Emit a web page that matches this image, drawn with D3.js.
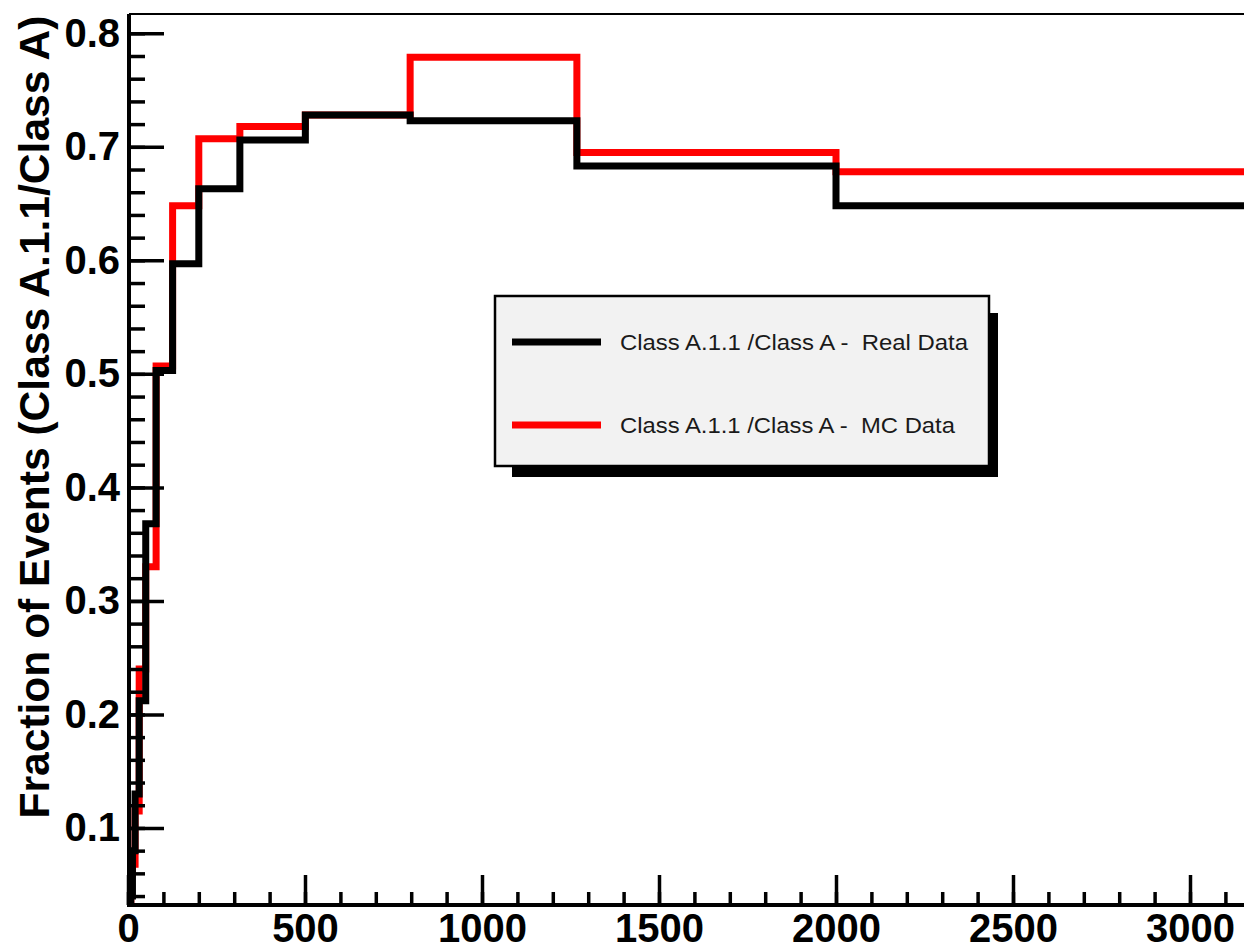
<!DOCTYPE html>
<html>
<head>
<meta charset="utf-8">
<script src="https://cdn.jsdelivr.net/npm/d3@7"></script>
<style>
  html, body { margin: 0; padding: 0; background: #fff; }
  svg { display: block; }
  text { font-family: "Liberation Sans", Arial, Helvetica, sans-serif; }
</style>
</head>
<body>
<svg id="chart" width="1244" height="952"></svg>
<script>
// ---- data ----
const binEdges = [7.94, 12.6, 20.0, 31.6, 50.1, 79.4, 126, 200, 316, 501, 797, 1268, 2000, 3162];
const realData = [0.040, 0.080, 0.130, 0.212, 0.368, 0.503, 0.597, 0.663, 0.706, 0.728, 0.723, 0.683, 0.648];
const mcData   = [0.060, 0.068, 0.115, 0.240, 0.330, 0.507, 0.648, 0.707, 0.718, 0.728, 0.779, 0.695, 0.678];
const xTicks = [0, 500, 1000, 1500, 2000, 2500, 3000];
const yTicks = [0.1, 0.2, 0.3, 0.4, 0.5, 0.6, 0.7, 0.8];
const yTitle = "Fraction of Events (Class A.1.1/Class A)";
const legendLabels = ["Class A.1.1 /Class A -  Real Data", "Class A.1.1 /Class A -  MC Data"];
const seriesColors = ["#000000", "#ff0000"];

(function () {
// ---- layout ----
const svg = d3.select("#chart");
const pLeft = 129, pBottom = 905, pTop = 14, pRight = 1300;
const x = d3.scaleLinear().domain([0, 3300]).range([128, 128 + 3300 * 0.354]);
const y = d3.scaleLinear().domain([0.033, 0.817]).range([904, 14]);

svg.append("rect").attr("width", 1244).attr("height", 952).attr("fill", "#fff");

svg.append("defs").append("clipPath").attr("id", "plotClip")
  .append("rect").attr("x", pLeft).attr("y", pTop).attr("width", pRight - pLeft).attr("height", pBottom - pTop);

// ---- histograms ----
function stepPoints(vals) {
  const pts = [[binEdges[0], y.domain()[0]]];
  vals.forEach((v, i) => pts.push([binEdges[i], v]));
  pts.push([binEdges[binEdges.length - 1], vals[vals.length - 1]]);
  return pts;
}
const line = d3.line().x(d => x(d[0])).y(d => y(d[1])).curve(d3.curveStepAfter);
const g = svg.append("g").attr("clip-path", "url(#plotClip)");
g.append("path").attr("d", line(stepPoints(mcData)))
  .attr("fill", "none").attr("stroke", seriesColors[1]).attr("stroke-width", 7).attr("stroke-linejoin", "miter");
g.append("path").attr("d", line(stepPoints(realData)))
  .attr("fill", "none").attr("stroke", seriesColors[0]).attr("stroke-width", 7).attr("stroke-linejoin", "miter");

// ---- axes ----
const yMinor = d3.range(0.04, 0.817, 0.02);
const xMinor = d3.range(0, 3300, 100);

const yAxisG = svg.append("g").attr("transform", `translate(${pLeft},0)`);
yAxisG.call(d3.axisLeft(y).tickValues(yMinor).tickSize(-16).tickFormat(""));
yAxisG.select(".domain").remove();
const yMajG = svg.append("g").attr("transform", `translate(${pLeft},0)`)
  .call(d3.axisLeft(y).tickValues(yTicks).tickSize(-35).tickPadding(9).tickFormat(d3.format(".1f")));
yMajG.select(".domain").remove();
yMajG.selectAll("text").attr("font-size", 40).attr("font-weight", "bold").attr("fill", "#000")
  .attr("font-family", "'Liberation Sans', Arial, sans-serif");

const xAxisG = svg.append("g").attr("transform", `translate(0,${pBottom})`);
xAxisG.call(d3.axisBottom(x).tickValues(xMinor).tickSize(-13).tickFormat(""));
xAxisG.select(".domain").remove();
const xMajG = svg.append("g").attr("transform", `translate(0,${pBottom})`)
  .call(d3.axisBottom(x).tickValues(xTicks).tickSize(-30).tickPadding(9).tickFormat(d3.format("d")));
xMajG.select(".domain").remove();
xMajG.selectAll("text").attr("font-size", 40).attr("font-weight", "bold").attr("fill", "#000")
  .attr("font-family", "'Liberation Sans', Arial, sans-serif");
svg.selectAll("g.tick line").attr("stroke", "#000").attr("stroke-width", 3.5);

// frame
svg.append("line").attr("x1", pLeft).attr("x2", pLeft).attr("y1", pTop).attr("y2", pBottom + 2)
  .attr("stroke", "#000").attr("stroke-width", 4);
svg.append("line").attr("x1", pLeft - 2).attr("x2", 1244).attr("y1", pBottom).attr("y2", pBottom)
  .attr("stroke", "#000").attr("stroke-width", 4);
svg.append("line").attr("x1", pLeft).attr("x2", 1244).attr("y1", pTop).attr("y2", pTop)
  .attr("stroke", "#000").attr("stroke-width", 2);

// y title
svg.append("text").attr("transform", "translate(49,417) rotate(-90)")
  .attr("text-anchor", "middle").attr("font-size", 42.5).attr("font-weight", "bold")
  .attr("fill", "#000").attr("textLength", 803).attr("lengthAdjust", "spacingAndGlyphs")
  .text(yTitle);

// ---- legend ----
const leg = svg.append("g");
leg.append("rect").attr("x", 512).attr("y", 313).attr("width", 486).attr("height", 164).attr("fill", "#000");
leg.append("rect").attr("x", 495).attr("y", 296).attr("width", 494).attr("height", 170)
  .attr("fill", "#f2f2f2").attr("stroke", "#000").attr("stroke-width", 2.5);
const rowY = [342, 425];
const rowW = [348, 335];
legendLabels.forEach((lab, i) => {
  leg.append("line").attr("x1", 512).attr("x2", 601).attr("y1", rowY[i]).attr("y2", rowY[i])
    .attr("stroke", seriesColors[i]).attr("stroke-width", 7);
  leg.append("text").attr("x", 620).attr("y", rowY[i] + 7.5)
    .attr("font-size", 22.5).attr("fill", "#1a1a1a")
    .attr("textLength", rowW[i]).attr("lengthAdjust", "spacingAndGlyphs")
    .style("white-space", "pre").text(lab);
});
})();
</script>
</body>
</html>
